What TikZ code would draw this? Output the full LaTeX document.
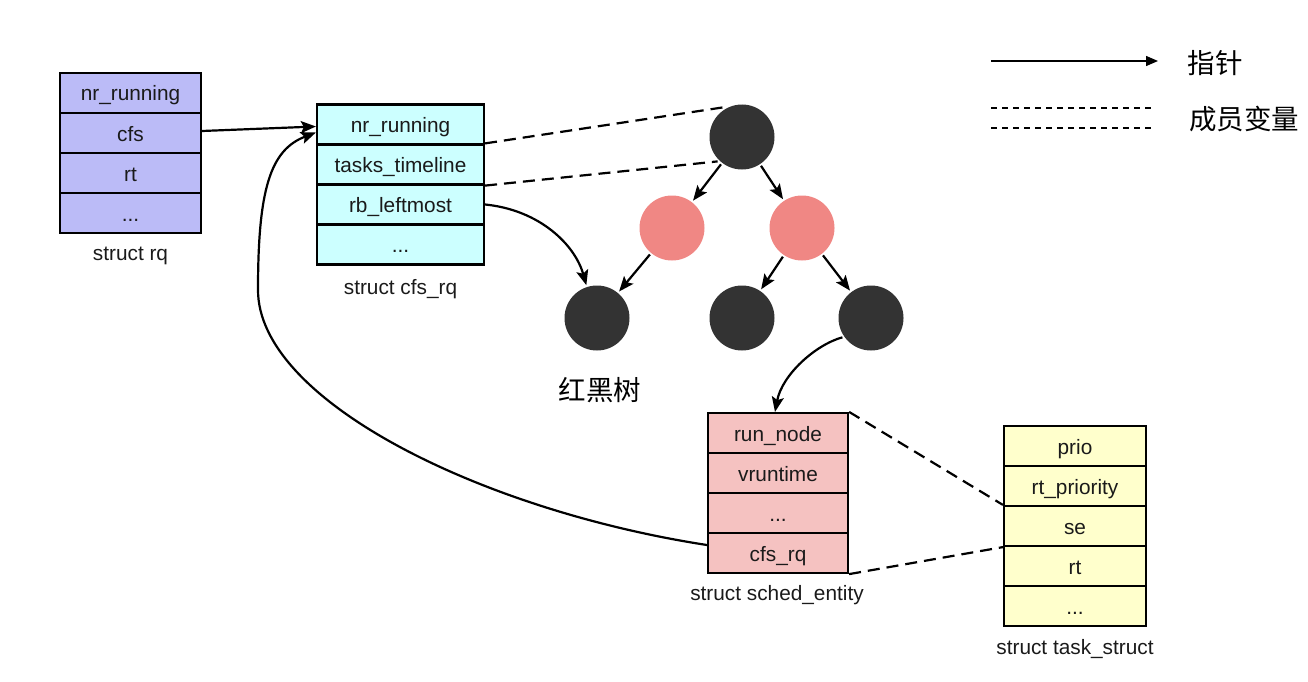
\documentclass[tikz,border=0pt]{standalone}
\usepackage{fontspec}
\setmainfont{Liberation Sans}
\newfontfamily\cjk{Noto Sans CJK SC}
\usetikzlibrary{arrows.meta}
\definecolor{rqfill}{RGB}{187,187,247}
\definecolor{cfsfill}{RGB}{204,255,255}
\definecolor{sefill}{RGB}{245,194,193}
\definecolor{tsfill}{RGB}{255,255,204}
\definecolor{darknode}{RGB}{51,51,51}
\definecolor{rednode}{RGB}{240,135,132}
\definecolor{txt}{RGB}{26,26,26}
\begin{document}
\begin{tikzpicture}[x=1pt,y=-1pt,
  cell/.style={draw=black, line width=2.2pt, minimum height=40pt, inner sep=0pt,
    font=\fontsize{20.8}{24}\selectfont, text=txt, text height=17.5pt, text depth=1.5pt},
  lbl/.style={font=\fontsize{20.8}{24}\selectfont, text=txt, inner sep=0pt},
  cjkl/.style={font=\cjk\fontsize{27.5}{32}\selectfont, text=black, inner sep=0pt},
  blk/.style={circle, fill=darknode, minimum size=65pt, inner sep=0pt, outer sep=2pt},
  rdn/.style={circle, fill=rednode, minimum size=65pt, inner sep=0pt, outer sep=2pt},
  ptr/.style={line width=2.2pt, draw=black, -{Stealth[length=15pt,width=12pt,inset=3pt]}},
  mem/.style={line width=2.2pt, draw=black, dash pattern=on 12pt off 7pt},
  legline/.style={line width=1.3pt, draw=black},
]
\useasboundingbox (0,0) rectangle (1308,682);

% struct rq
\node[cell, fill=rqfill, minimum width=141pt] (rq1) at (130.5,93) {nr\_running};
\node[cell, fill=rqfill, minimum width=141pt] (rq2) at (130.5,133) {cfs};
\node[cell, fill=rqfill, minimum width=141pt] (rq3) at (130.5,173) {rt};
\node[cell, fill=rqfill, minimum width=141pt] (rq4) at (130.5,213) {...};
\node[lbl] (rqlbl) at (130.5,256) {struct rq};

% struct cfs_rq
\node[cell, fill=cfsfill, minimum width=167pt] (c1) at (400.5,124.5) {nr\_running};
\node[cell, fill=cfsfill, minimum width=167pt] (c2) at (400.5,164.5) {tasks\_timeline};
\node[cell, fill=cfsfill, minimum width=167pt] (c3) at (400.5,204.5) {rb\_leftmost};
\node[cell, fill=cfsfill, minimum width=167pt] (c4) at (400.5,244.5) {...};
\node[lbl] (cfslbl) at (400.5,289) {struct cfs\_rq};

% struct sched_entity
\node[cell, fill=sefill, minimum width=140pt] (se1) at (778,433) {run\_node};
\node[cell, fill=sefill, minimum width=140pt] (se2) at (778,473) {vruntime};
\node[cell, fill=sefill, minimum width=140pt] (se3) at (778,513) {...};
\node[cell, fill=sefill, minimum width=140pt] (se4) at (778,553) {cfs\_rq};
\node[lbl] (selbl) at (777,595) {struct sched\_entity};

% struct task_struct
\node[cell, fill=tsfill, minimum width=142pt] (t1) at (1075,446) {prio};
\node[cell, fill=tsfill, minimum width=142pt] (t2) at (1075,486) {rt\_priority};
\node[cell, fill=tsfill, minimum width=142pt] (t3) at (1075,526) {se};
\node[cell, fill=tsfill, minimum width=142pt] (t4) at (1075,566) {rt};
\node[cell, fill=tsfill, minimum width=142pt] (t5) at (1075,606) {...};
\node[lbl] (tslbl) at (1075,649) {struct task\_struct};

% red-black tree
\node[blk] (root) at (742,137) {};
\node[rdn] (rl) at (672,228) {};
\node[rdn] (rr) at (802,228) {};
\node[blk] (bl) at (597,318) {};
\node[blk] (bm) at (742,318) {};
\node[blk] (br) at (871,318) {};
\node[cjkl] (rbt) at (600,390) {红黑树};

\draw[ptr] (root) -- (rl);
\draw[ptr] (root) -- (rr);
\draw[ptr] (rl) -- (bl);
\draw[ptr] (rr) -- (bm);
\draw[ptr] (rr) -- (br);

% member (dashed) links
\draw[mem] (c2.north east) -- (root.120);
\draw[mem] (c2.south east) -- (root.225);
\draw[mem] (se1.north east) -- (t3.north west);
\draw[mem] (se4.south east) -- (t3.south west);

% pointers
\draw[ptr] ([yshift=2pt]rq2.east) -- ([yshift=-2pt]c1.west);
\draw[ptr] (c3.east) .. controls (540,210) and (575,245) .. (bl.108);
\draw[ptr] (br.214) .. controls (815,345) and (782,375) .. ([xshift=-3pt]se1.north);
\coordinate (bend) at (258,290);
\draw[ptr] ([yshift=8pt]se4.west) .. controls (480,510) and (258,400) .. (bend)
  .. controls (258,190) and (270,150) .. ([yshift=-8pt]c1.west);

% legend
\coordinate (la) at (991,61);
\coordinate (lb) at (1158,61);
\draw[legline, -{Triangle[length=12pt,width=10pt]}] (la) -- (lb);
\node[cjkl] (lptr) at (1215,63) {指针};
\coordinate (m1a) at (991,108);
\coordinate (m1b) at (1155,108);
\coordinate (m2a) at (991,128);
\coordinate (m2b) at (1155,128);
\draw[legline, line width=1.1pt, dash pattern=on 6pt off 5pt] (m1a) -- (m1b);
\draw[legline, line width=1.1pt, dash pattern=on 6pt off 5pt] (m2a) -- (m2b);
\node[cjkl] (lmem) at (1244,119) {成员变量};
\end{tikzpicture}
\end{document}
